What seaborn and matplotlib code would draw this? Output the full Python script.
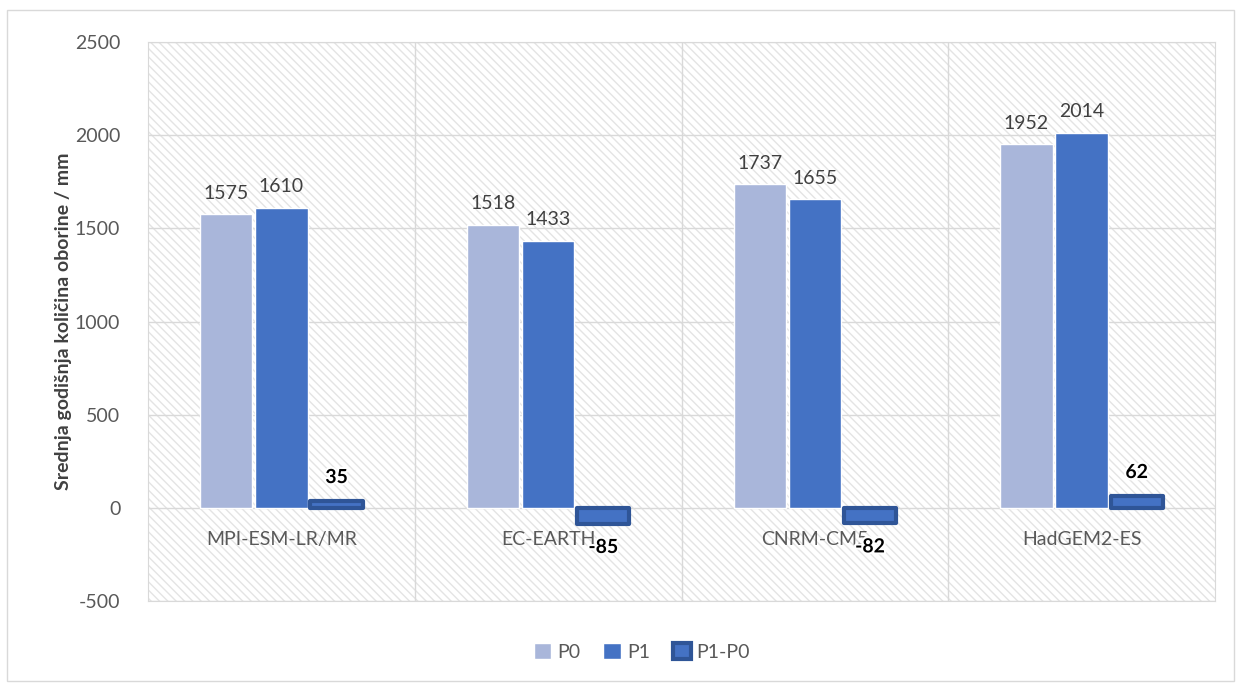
import pandas as pd
import matplotlib.pyplot as plt
import matplotlib.patheffects as pe
from matplotlib.patches import Rectangle
import seaborn as sns

# data
models = ['MPI-ESM-LR/MR', 'EC-EARTH', 'CNRM-CM5', 'HadGEM2-ES']
p0 = [1575, 1518, 1737, 1952]
p1 = [1610, 1433, 1655, 2014]
diff = [35, -85, -82, 62]
series = ['P0', 'P1', 'P1-P0']
colors = ['#A9B6DA', '#4472C4', '#4472C4']

df = pd.DataFrame({
    'model': models * 3,
    'serija': ['P0'] * 4 + ['P1'] * 4 + ['P1-P0'] * 4,
    'vrijednost': p0 + p1 + diff,
})

sns.set_style('white')
plt.rcParams['font.family'] = ['Lato', 'DejaVu Sans']
plt.rcParams['axes.unicode_minus'] = False

fig = plt.figure(figsize=(12.39, 6.84), dpi=100)
fig.patches.append(Rectangle((0.006, 0.005), 0.99, 0.98, transform=fig.transFigure,
                             fill=False, edgecolor='#D9D9D9', lw=1))
ax = fig.add_axes([0.1195, 0.1213, 0.8611, 0.8173])

# hatched background
ax.add_patch(Rectangle((0, 0), 1, 1, transform=ax.transAxes, facecolor='white',
                       edgecolor='#E4E4E4', hatch='\\\\\\\\', lw=0, zorder=0))

sns.barplot(data=df, x='model', y='vrijednost', hue='serija', palette=colors,
            saturation=1, width=0.62, gap=0.05, ax=ax, zorder=3, legend=False)

# style the difference bars
for bar in ax.containers[2]:
    bar.set_edgecolor('#2F5597')
    bar.set_linewidth(3)
    bar.set_joinstyle('round')

ax.set_ylim(-500, 2500)
ax.set_xlim(-0.5, 3.5)
ax.set_yticks(range(-500, 2501, 500))
ax.grid(axis='y', color='#D9D9D9', lw=1, zorder=1)
for x in [0.5, 1.5, 2.5]:
    ax.axvline(x, color='#D9D9D9', lw=1, zorder=1)
for s in ax.spines.values():
    s.set_color('#D9D9D9')
ax.tick_params(axis='y', labelsize=14, colors='#595959', length=0, pad=20)
ax.set_xticks([])
ax.set_xlabel('')
ax.set_ylabel('Srednja godišnja količina oborine / mm', fontsize=14,
              fontweight='bold', color='#404040', labelpad=2)

for i, m in enumerate(models):
    ax.text(i, -170, m, ha='center', va='center', fontsize=14, color='#595959', zorder=4)

for c in ax.containers[:2]:
    ax.bar_label(c, fontsize=14, color='#404040', padding=9)
lab = ax.bar_label(ax.containers[2], fontsize=14, fontweight='bold', color='black', padding=11)
for t in lab:
    t.set_path_effects([pe.withStroke(linewidth=3, foreground='white')])
    t.set_zorder(5)

handles = [Rectangle((0, 0), 1, 1, facecolor=colors[0]),
           Rectangle((0, 0), 1, 1, facecolor=colors[1]),
           Rectangle((0, 0), 1, 1, facecolor=colors[2], edgecolor='#2F5597', lw=3)]
fig.legend(handles, series, loc='center', bbox_to_anchor=(0.518, 0.047), ncol=3,
           frameon=False, fontsize=14, handlelength=0.9, handleheight=0.9,
           handletextpad=0.3, columnspacing=1.2, labelcolor='#595959')

fig.savefig('out.png', dpi=100)
